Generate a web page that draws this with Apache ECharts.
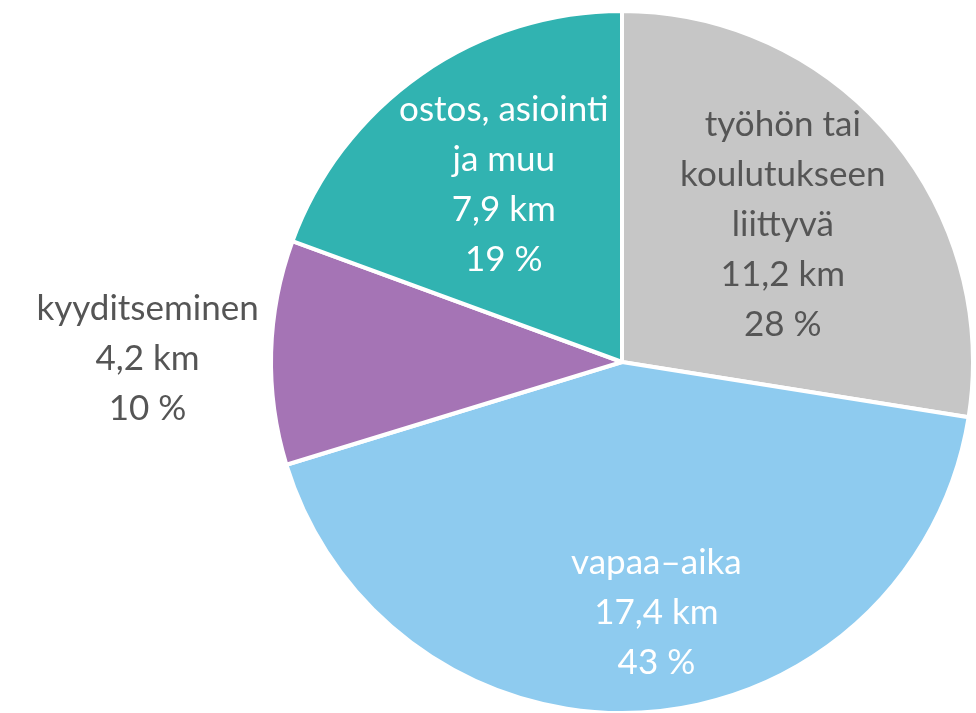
<!DOCTYPE html>
<html>
<head>
<meta charset="utf-8">
<script src="https://cdn.jsdelivr.net/npm/echarts@6/dist/echarts.min.js"></script>
<style>
html,body{margin:0;padding:0;background:#fff;}
#chart{width:976px;height:713px;}
</style>
</head>
<body>
<div id="chart"></div>
<script>
// Data
const categories = ['työhön tai\nkoulutukseen\nliittyvä', 'vapaa–aika', 'kyyditseminen', 'ostos, asiointi\nja muu'];
const kmValues = [11.2, 17.4, 4.2, 7.9];
const percentLabels = [28, 43, 10, 19];

// Styling (not data)
const colors = ['#c6c6c6', '#8ecbef', '#a574b5', '#31b3b1'];
const textColors = ['#555555', '#ffffff', '#555555', '#ffffff'];
const labelOffsets = [[25, -21], [22, 73], [-296, 2], [-16, -31]];

const chart = echarts.init(document.getElementById('chart'), null, {renderer: 'canvas'});

const seriesData = categories.map((name, i) => ({
  name: name,
  value: kmValues[i],
  itemStyle: {color: colors[i]},
  label: {
    color: textColors[i],
    offset: labelOffsets[i]
  }
}));

chart.setOption({
  animation: false,
  series: [{
    type: 'pie',
    center: [622, 362],
    radius: [0, 351],
    startAngle: 90,
    clockwise: true,
    data: seriesData,
    itemStyle: {borderColor: '#ffffff', borderWidth: 4},
    labelLine: {show: false},
    label: {
      show: true,
      position: 'inside',
      fontFamily: 'Lato',
      fontSize: 35,
      lineHeight: 50,
      align: 'center',
      formatter: function (p) {
        const i = p.dataIndex;
        return categories[i] + '\n' + String(kmValues[i]).replace('.', ',') + ' km\n' + percentLabels[i] + ' %';
      }
    },
    emphasis: {disabled: true}
  }]
});
</script>
</body>
</html>
